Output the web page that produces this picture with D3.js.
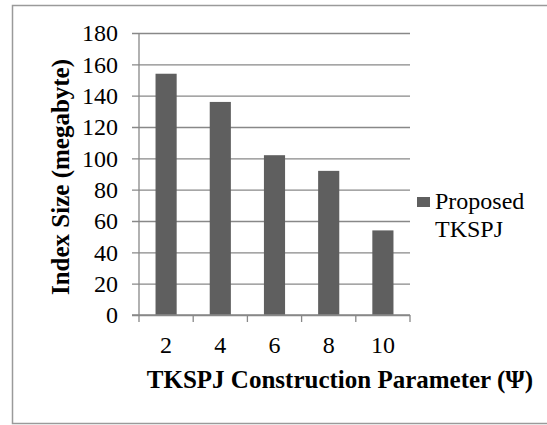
<!DOCTYPE html>
<html>
<head>
<meta charset="utf-8">
<script src="https://cdn.jsdelivr.net/npm/d3@7"></script>
</head>
<body style="margin:0">
<script>
// data
var categories = ["2", "4", "6", "8", "10"];
var sizes = [154, 136, 102, 92, 54];
var seriesName = ["Proposed", "TKSPJ"];
var yTicks = [0, 20, 40, 60, 80, 100, 120, 140, 160, 180];

var width = 547, height = 425;
var plot = { left: 139, right: 410, top: 33, bottom: 315 };
var face = "'Liberation Serif', monospace";
var fontSize = 24,
    titleSize = 25;

var svg = d3.select("body").append("svg")
  .attr("width", width)
  .attr("height", height);

// outer frame (right side cut off in the original)
svg.append("path")
  .attr("d", "M547,5.5 H12.5 V423.5 H547")
  .attr("fill", "none")
  .attr("stroke", "#9a9a9a")
  .attr("stroke-width", 1.5);

var x = d3.scaleBand()
  .domain(categories)
  .range([plot.left, plot.right])
  .paddingInner(0.61)
  .paddingOuter(0.305);

var y = d3.scaleLinear()
  .domain([0, 180])
  .range([plot.bottom, plot.top]);

// gridlines + y ticks
var yAxis = d3.axisLeft(y)
  .tickValues(yTicks)
  .tickSize(-(plot.right - plot.left))
  .tickSizeOuter(0)
  .tickPadding(21)
  .tickFormat(d3.format("d"));

var gy = svg.append("g")
  .attr("transform", "translate(" + plot.left + ",0)")
  .call(yAxis);
gy.select(".domain").remove();
gy.selectAll(".tick line")
  .attr("x1", -7)
  .attr("stroke", "#888")
  .attr("stroke-width", 1.3);
gy.selectAll(".tick text")
  .attr("dy", "0.33em")
  .attr("fill", "#000")
  .attr("font-size", fontSize)
  .style("font-family", face);

// bars
svg.append("g").selectAll("rect")
  .data(sizes)
  .enter().append("rect")
  .attr("x", function(d, i) { return x(categories[i]); })
  .attr("y", function(d) { return y(d); })
  .attr("width", x.bandwidth())
  .attr("height", function(d) { return y(0) - y(d); })
  .attr("fill", "#5f5f5f");

// y axis line
svg.append("line")
  .attr("x1", plot.left).attr("x2", plot.left)
  .attr("y1", plot.top).attr("y2", plot.bottom)
  .attr("stroke", "#888").attr("stroke-width", 1.3);

// x axis with tick marks at category edges
var xEdges = d3.scaleLinear().domain([0, categories.length]).range([plot.left, plot.right]);
svg.append("line")
  .attr("x1", plot.left - 7).attr("x2", plot.right)
  .attr("y1", plot.bottom).attr("y2", plot.bottom)
  .attr("stroke", "#888").attr("stroke-width", 1.3);
svg.append("g").selectAll("line")
  .data(d3.range(categories.length + 1))
  .enter().append("line")
  .attr("x1", function(d) { return xEdges(d); })
  .attr("x2", function(d) { return xEdges(d); })
  .attr("y1", plot.bottom).attr("y2", plot.bottom + 7)
  .attr("stroke", "#888").attr("stroke-width", 1.3);

svg.append("g").selectAll("text")
  .data(categories)
  .enter().append("text")
  .attr("x", function(d) { return x(d) + x.bandwidth() / 2; })
  .attr("y", 353)
  .attr("text-anchor", "middle")
  .attr("font-size", fontSize)
  .style("font-family", face)
  .text(function(d) { return d; });

// axis titles
svg.append("text")
  .attr("x", 340)
  .attr("y", 388)
  .attr("text-anchor", "middle")
  .attr("font-size", titleSize)
  .attr("font-weight", "bold")
  .style("font-family", face)
  .text("TKSPJ Construction Parameter (\u03A8)");

svg.append("text")
  .attr("transform", "translate(69,177) rotate(-90)")
  .attr("text-anchor", "middle")
  .attr("font-size", titleSize)
  .attr("font-weight", "bold")
  .style("font-family", face)
  .text("Index Size (megabyte)");

// legend
var lg = svg.append("g");
lg.append("rect")
  .attr("x", 417).attr("y", 197)
  .attr("width", 13).attr("height", 10)
  .attr("fill", "#5f5f5f");
lg.selectAll("text")
  .data(seriesName)
  .enter().append("text")
  .attr("x", 435)
  .attr("y", function(d, i) { return 209 + i * 28; })
  .attr("font-size", fontSize)
  .style("font-family", face)
  .text(function(d) { return d; });
</script>
</body>
</html>
